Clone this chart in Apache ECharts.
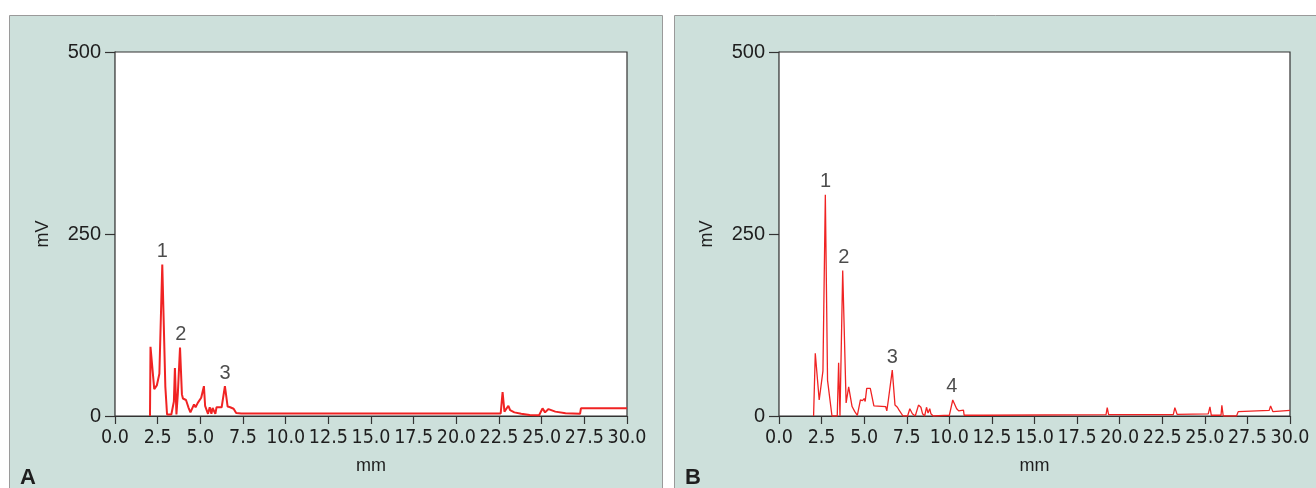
<!DOCTYPE html>
<html>
<head>
<meta charset="utf-8">
<script src="https://cdn.jsdelivr.net/npm/echarts@6/dist/echarts.min.js"></script>
<style>
  html, body { margin: 0; padding: 0; background: #fff; }
  #chart { width: 1316px; height: 488px; }
</style>
</head>
<body>
<div id="chart"></div>
<script>
  // panel A trace (mm, mV)
  const traceAX = [2.05, 2.08, 2.3, 2.45, 2.6, 2.77, 2.95, 3.05, 3.3, 3.45, 3.51, 3.6, 3.68, 3.81, 3.92, 3.98, 4.16, 4.3, 4.42, 4.63, 4.72, 4.85, 5.05, 5.21, 5.28, 5.38, 5.45, 5.55, 5.65, 5.72, 5.8, 5.88, 5.95, 6.25, 6.44, 6.6, 6.75, 6.95, 7.1, 7.4, 22.6, 22.71, 22.82, 23.05, 23.15, 23.4, 23.8, 24.3, 24.85, 25.05, 25.2, 25.4, 25.8, 26.4, 27.25, 27.3, 30]
  const traceAY = [0, 95, 37, 42, 58, 208, 40, 2, 2, 20, 66, 2, 30, 94, 30, 24, 22, 12, 5, 16, 12, 18, 25, 41, 14, 12, 3, 12, 3, 11, 11, 3, 12, 12, 41, 13, 12, 10, 4, 3.5, 3.5, 33, 6, 14, 8, 5, 3, 1.5, 1, 10.5, 5, 9.5, 6, 3.7, 3, 10.5, 10.5]

  // panel B trace (mm, mV)
  const traceBX = [2.03, 2.13, 2.36, 2.58, 2.72, 2.85, 3.11, 3.42, 3.5, 3.58, 3.74, 3.94, 4.09, 4.29, 4.45, 4.6, 4.78, 4.9, 5.0, 5.06, 5.15, 5.24, 5.36, 5.57, 6.26, 6.33, 6.42, 6.65, 6.81, 6.95, 7.05, 7.28, 7.55, 7.68, 7.83, 8.0, 8.19, 8.33, 8.43, 8.55, 8.66, 8.75, 8.85, 8.92, 9.05, 10.0, 10.2, 10.43, 10.55, 10.63, 10.83, 10.87, 12, 19.2, 19.27, 19.35, 23.15, 23.24, 23.37, 25.2, 25.3, 25.38, 25.95, 26.0, 26.08, 26.86, 26.96, 28.78, 28.86, 29.0, 30]
  const traceBY = [0, 86, 22, 62, 304, 49, 0, 0, 73, 0, 200, 18, 40, 13, 6, 1, 22, 21, 24, 20, 38, 40, 38, 14, 13, 7, 22, 63, 15, 12, 8, 0, 0, 10, 3, 0, 15, 12, 3, 0, 12, 4, 10, 3, 0, 1, 22, 10, 7, 8, 8, 1, 1, 2, 11.5, 2, 2, 11.5, 2.3, 3, 12.4, 1, 1, 14.6, 0, 0, 6, 7.8, 13.7, 6, 7.8]

  // numbered peaks
  const peakANames = ['1', '2', '3']
  const peakAX = [2.77, 3.85, 6.45]
  const peakAY = [208, 94, 41]
  const peakBNames = ['1', '2', '3', '4']
  const peakBX = [2.74, 3.8, 6.65, 10.15]
  const peakBY = [304, 200, 63, 22]

  const xTicks = [0, 30, 2.5]
  const yTicks = [0, 500, 250]
  const panelLetters = ['A', 'B']

  const pairs = (xs, ys) => xs.map((x, i) => [x, ys[i]])
  const peaks = (names, xs, ys) => names.map((n, i) => ({ name: n, value: [xs[i], ys[i]] }))

  const SANS = '"Liberation Sans", Arial, sans-serif'
  const NARROW = '"Liberation Sans Narrow", "DejaVu Sans Condensed", "Roboto Condensed", "Liberation Sans", sans-serif'

  const gridBase = { top: 52, height: 364, show: true, backgroundColor: '#fff', borderColor: '#333', borderWidth: 1.2, z: 5 }

  function xAxisFor(i) {
    return {
      type: 'value', gridIndex: i, min: xTicks[0], max: xTicks[1], interval: xTicks[2],
      name: 'mm', nameLocation: 'middle', nameGap: 41,
      nameTextStyle: { fontFamily: SANS, fontSize: 18, color: '#1e1e1e' },
      axisLine: { lineStyle: { color: '#333', width: 1.2 } },
      axisTick: { length: 8, lineStyle: { color: '#333', width: 1.2 } },
      axisLabel: { fontFamily: NARROW, fontSize: 19.5, color: '#1e1e1e', margin: 12, formatter: v => v.toFixed(1) },
      splitLine: { show: false },
    }
  }

  function yAxisFor(i) {
    return {
      type: 'value', gridIndex: i, min: yTicks[0], max: yTicks[1], interval: yTicks[2],
      name: 'mV', nameLocation: 'middle', nameGap: 63,
      nameTextStyle: { fontFamily: SANS, fontSize: 18, color: '#1e1e1e' },
      axisLine: { show: true, lineStyle: { color: '#333', width: 1.2 } },
      axisTick: { show: true, length: 10, lineStyle: { color: '#333', width: 1.2 } },
      axisLabel: { fontFamily: SANS, fontSize: 20, color: '#1e1e1e', margin: 14 },
      splitLine: { show: false },
    }
  }

  function traceSeries(i, data, width) {
    return {
      type: 'line', xAxisIndex: i, yAxisIndex: i, data: data,
      symbol: 'none', lineStyle: { color: '#f02323', width: width }, z: 6,
    }
  }

  function peakSeries(i, data) {
    return {
      type: 'scatter', xAxisIndex: i, yAxisIndex: i, data: data, symbolSize: 0, z: 7,
      label: { show: true, position: 'top', distance: 3, formatter: '{b}', fontFamily: SANS, fontSize: 20, color: '#1e1e1e' },
    }
  }

  const panelStyle = { fill: '#cde0db', stroke: '#9a9a9a', lineWidth: 1 }

  const option = {
    animation: false,
    backgroundColor: '#fff',
    graphic: [
      { type: 'rect', z: 0, silent: true, shape: { x: 9.5, y: 15.5, width: 653, height: 480 }, style: panelStyle },
      { type: 'rect', z: 0, silent: true, shape: { x: 674.5, y: 15.5, width: 660, height: 480 }, style: panelStyle },
      { type: 'text', z: 10, left: 20, top: 467, style: { text: panelLetters[0], font: 'bold 22px "Liberation Sans"', fill: '#1e1e1e' } },
      { type: 'text', z: 10, left: 685, top: 467, style: { text: panelLetters[1], font: 'bold 22px "Liberation Sans"', fill: '#1e1e1e' } },
    ],
    grid: [
      Object.assign({ left: 115, width: 512 }, gridBase),
      Object.assign({ left: 779, width: 511 }, gridBase),
    ],
    xAxis: [xAxisFor(0), xAxisFor(1)],
    yAxis: [yAxisFor(0), yAxisFor(1)],
    series: [
      traceSeries(0, pairs(traceAX, traceAY), 2),
      traceSeries(1, pairs(traceBX, traceBY), 1.3),
      peakSeries(0, peaks(peakANames, peakAX, peakAY)),
      peakSeries(1, peaks(peakBNames, peakBX, peakBY)),
    ],
  }

  const chart = echarts.init(document.getElementById('chart'))
  chart.setOption(option)
</script>
</body>
</html>
